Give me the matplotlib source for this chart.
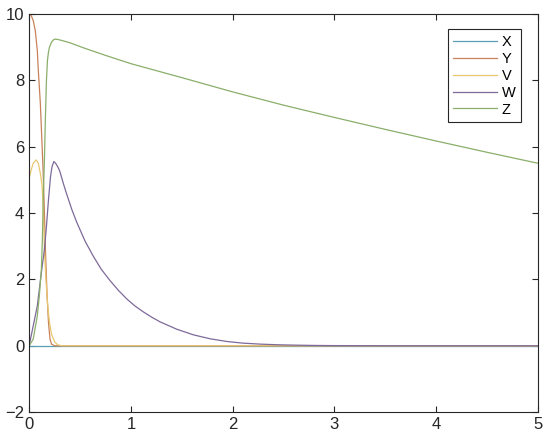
import numpy as np
import matplotlib
matplotlib.use('Agg')
from matplotlib import pyplot as plt

# values
x_t = [0, 5]
x_v = [0, 0]

y_t = [0, 0.02, 0.04, 0.06, 0.08, 0.09, 0.11, 0.125, 0.138, 0.15, 0.16, 0.175, 0.19, 0.205, 0.22, 0.25, 5]
y_v = [10, 9.95, 9.8, 9.5, 8.9, 8.3, 7.3, 6.2, 5.2, 4.0, 2.9, 1.6, 0.7, 0.2, 0.05, 0, 0]

v_t = [0, 0.02, 0.04, 0.07, 0.09, 0.11, 0.128, 0.14, 0.15, 0.165, 0.18, 0.2, 0.22, 0.25, 0.28, 0.32, 5]
v_v = [5.05, 5.3, 5.5, 5.6, 5.5, 5.2, 4.8, 4.0, 2.9, 2.0, 1.3, 0.7, 0.35, 0.12, 0.03, 0, 0]

w_t = [0, 0.03, 0.08, 0.12, 0.15, 0.17, 0.19, 0.21, 0.225, 0.243, 0.26, 0.28, 0.3, 0.34, 0.37,
       0.42, 0.468, 0.55, 0.632, 0.71, 0.796, 0.88, 0.96, 1.04, 1.123, 1.2, 1.287, 1.45, 1.614,
       1.78, 1.942, 2.1, 2.27, 2.45, 2.6, 2.8, 3.0, 3.5, 5]
w_v = [0, 0.45, 1.2, 2.2, 2.9, 3.6, 4.4, 5.1, 5.4, 5.55, 5.5, 5.4, 5.27, 4.85, 4.56,
       4.1, 3.72, 3.15, 2.69, 2.3, 1.96, 1.66, 1.41, 1.2, 1.02, 0.87, 0.72, 0.5, 0.33,
       0.21, 0.13, 0.08, 0.05, 0.03, 0.02, 0.01, 0.005, 0.001, 0]

z_t = [0, 0.04, 0.08, 0.1, 0.12, 0.13, 0.14, 0.15, 0.16, 0.17, 0.18, 0.19, 0.2, 0.22, 0.24, 0.255,
       0.28, 0.32, 0.4, 0.55, 0.75, 1, 1.5, 2, 2.5, 3, 3.5, 4, 4.5, 5]
z_v = [0, 0.2, 0.9, 1.5, 2.3, 3.2, 4.6, 5.6, 6.9, 8.0, 8.6, 8.85, 9.0, 9.15, 9.22, 9.24,
       9.23, 9.2, 9.13, 8.96, 8.75, 8.5, 8.08, 7.65, 7.25, 6.88, 6.52, 6.17, 5.83, 5.5]

labels = ['X', 'Y', 'V', 'W', 'Z']
colors = ['#5a9fb5', '#c8825a', '#e8c770', '#7d6a9a', '#8aaf6a']

plt.rcParams['font.family'] = ['Liberation Sans', 'DejaVu Sans']

fig = plt.figure(figsize=(5.5, 4.48), dpi=100)
ax = fig.add_axes([0.053, 0.080, 0.925, 0.889])

for t, v, lab, c in zip([x_t, y_t, v_t, w_t, z_t], [x_v, y_v, v_v, w_v, z_v], labels, colors):
    ax.plot(t, v, color=c, lw=0.9, label=lab)

ax.set_xlim(0, 5)
ax.set_ylim(-2, 10)
ax.set_xticks(range(0, 6))
ax.set_yticks(range(-2, 11, 2))
ax.tick_params(direction='in', top=True, right=True, labelsize=12, colors='#262626', length=4)
for s in ax.spines.values():
    s.set_color('#262626')
    s.set_linewidth(0.8)

leg = ax.legend(loc='upper right', bbox_to_anchor=(0.967, 0.962), borderaxespad=0, fontsize=10.5,
                fancybox=False, framealpha=1, edgecolor='#262626', handlelength=3.0,
                labelspacing=0.2, borderpad=0.4, handletextpad=0.3)
leg.get_frame().set_linewidth(0.8)

plt.savefig('out.png', dpi=100)
